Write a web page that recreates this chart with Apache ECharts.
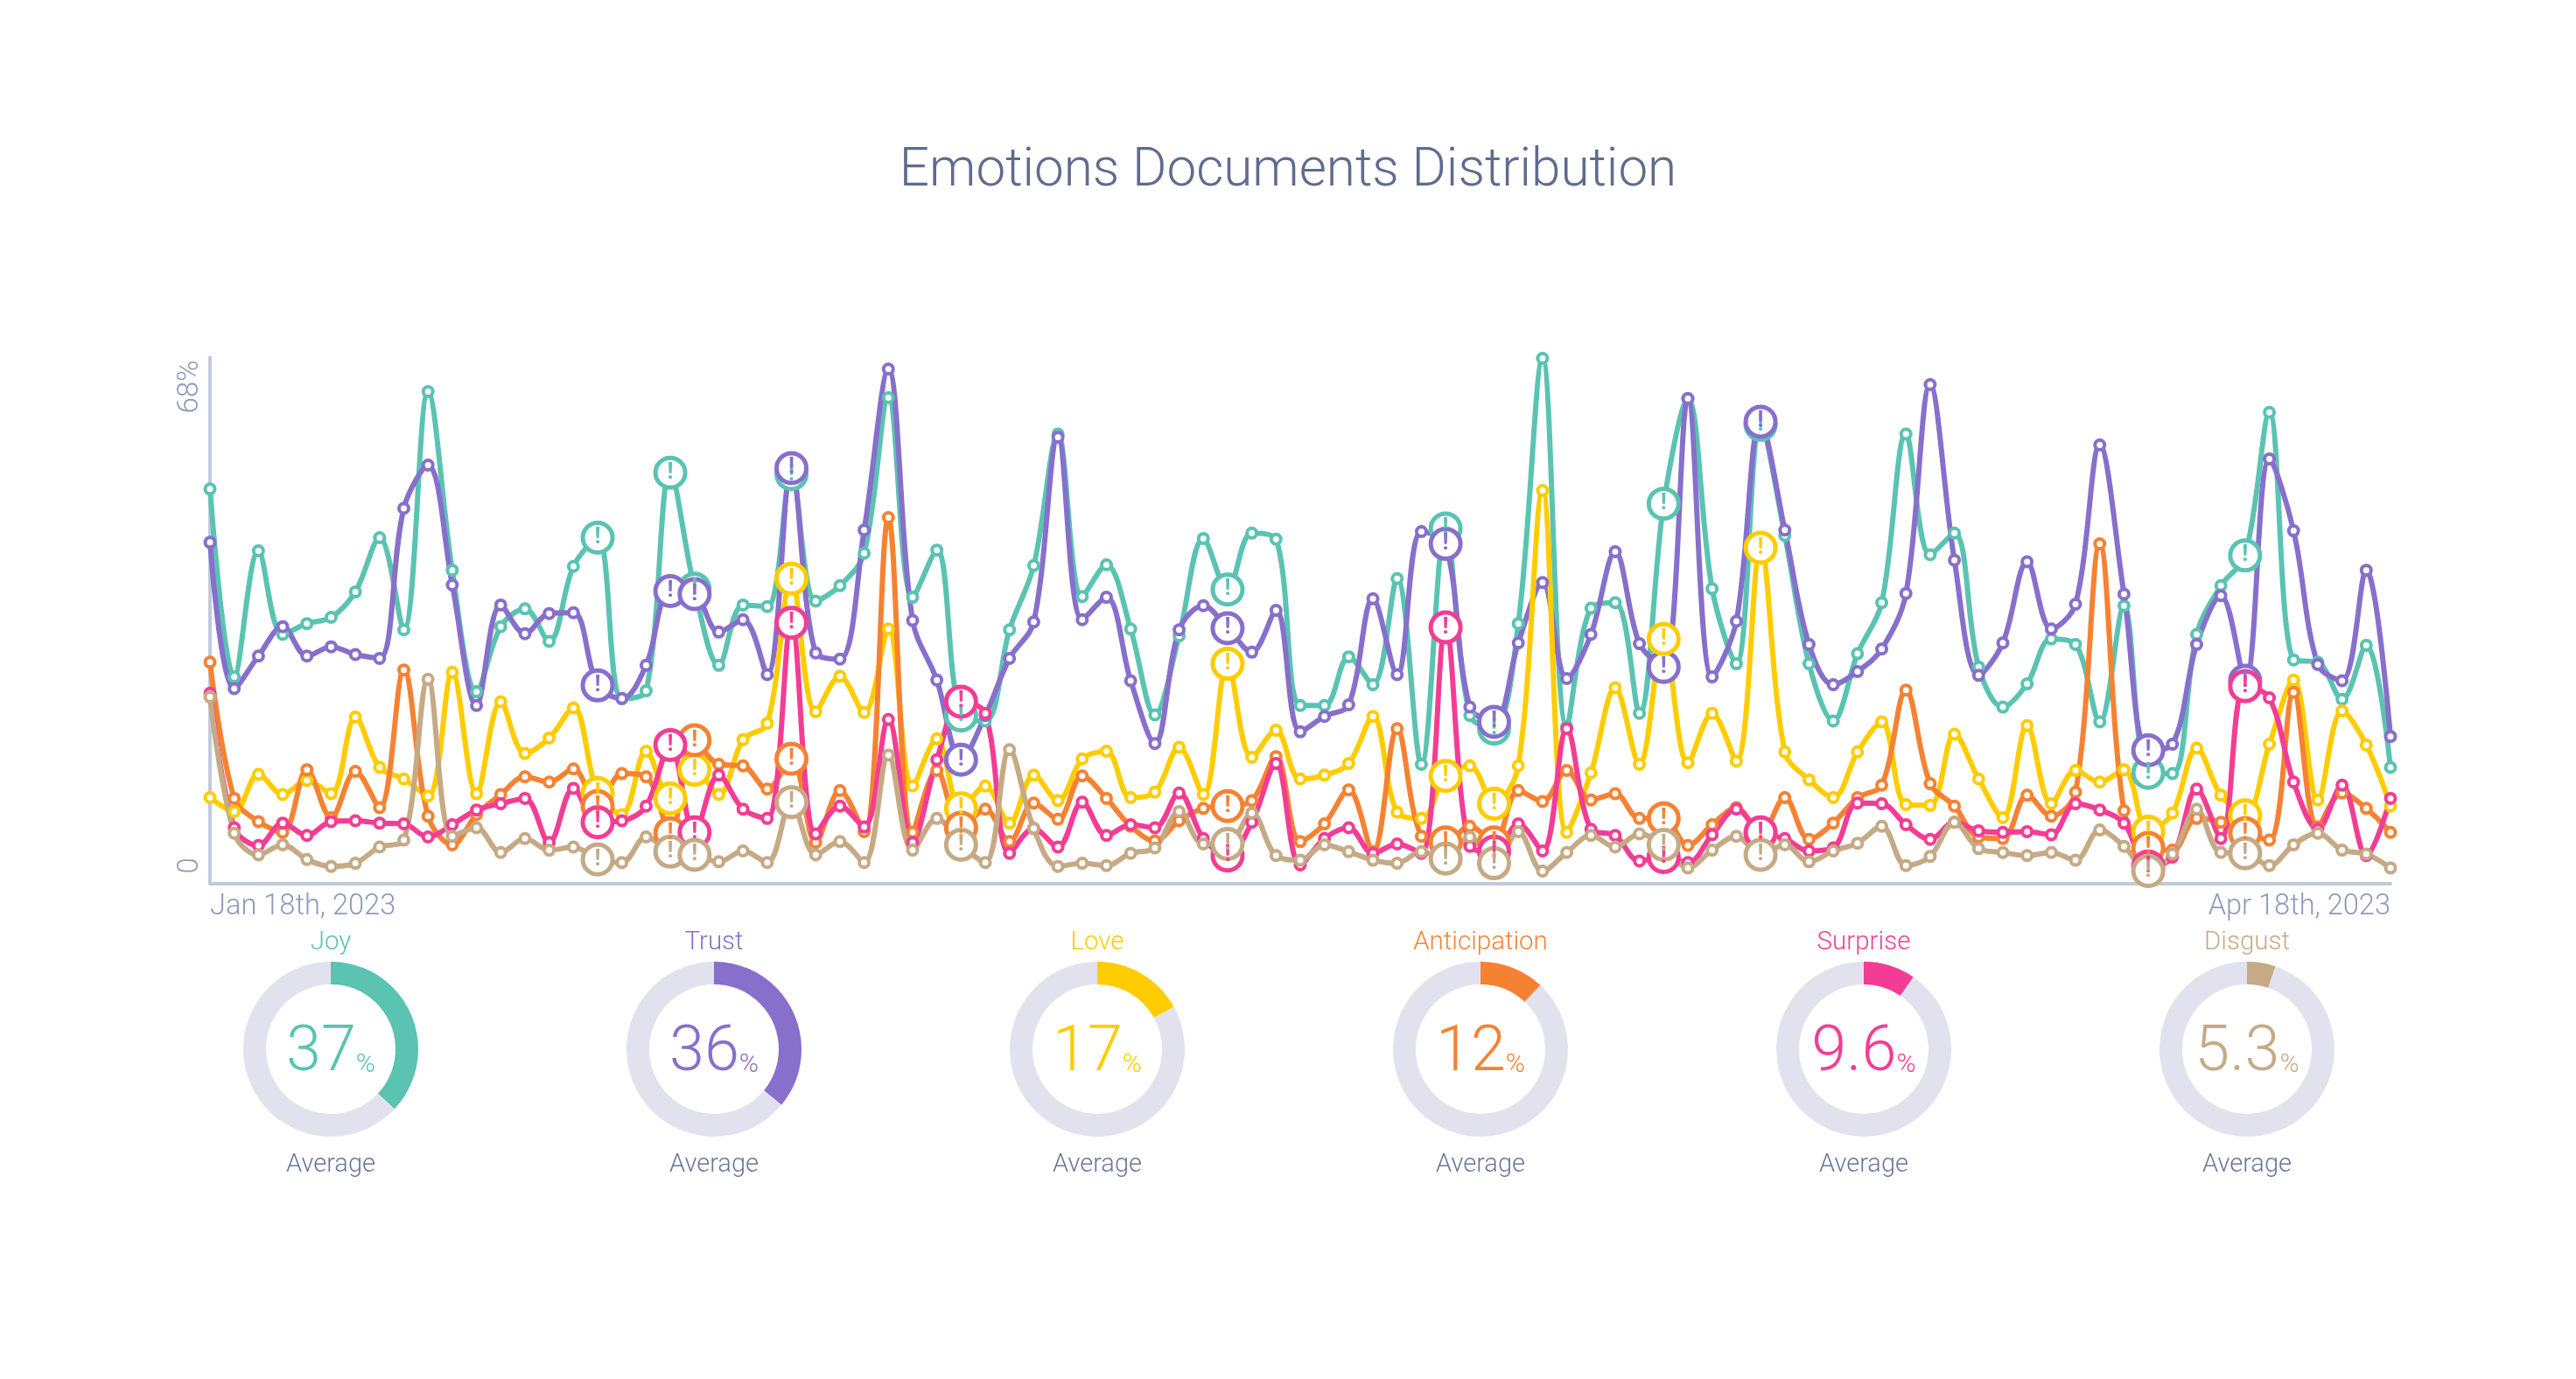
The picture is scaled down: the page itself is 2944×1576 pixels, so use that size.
<!DOCTYPE html>
<html>
<head>
<meta charset="utf-8">
<title>Emotions Documents Distribution</title>
<script src="https://cdn.jsdelivr.net/npm/echarts@6/dist/echarts.min.js"></script>
<style>
  html, body { margin: 0; padding: 0; background: #fff; }
  #chart { width: 2944px; height: 1576px; }
</style>
</head>
<body>
<div id="chart"></div>
<script>
// days on the axis, Jan 18th to Apr 18th
const days = [
  'Jan 18','Jan 19','Jan 20','Jan 21','Jan 22','Jan 23','Jan 24','Jan 25','Jan 26','Jan 27','Jan 28','Jan 29','Jan 30','Jan 31',
  'Feb 1','Feb 2','Feb 3','Feb 4','Feb 5','Feb 6','Feb 7','Feb 8','Feb 9','Feb 10','Feb 11','Feb 12','Feb 13','Feb 14','Feb 15','Feb 16','Feb 17','Feb 18','Feb 19','Feb 20','Feb 21','Feb 22','Feb 23','Feb 24','Feb 25','Feb 26','Feb 27','Feb 28',
  'Mar 1','Mar 2','Mar 3','Mar 4','Mar 5','Mar 6','Mar 7','Mar 8','Mar 9','Mar 10','Mar 11','Mar 12','Mar 13','Mar 14','Mar 15','Mar 16','Mar 17','Mar 18','Mar 19','Mar 20','Mar 21','Mar 22','Mar 23','Mar 24','Mar 25','Mar 26','Mar 27','Mar 28','Mar 29','Mar 30','Mar 31',
  'Apr 1','Apr 2','Apr 3','Apr 4','Apr 5','Apr 6','Apr 7','Apr 8','Apr 9','Apr 10','Apr 11','Apr 12','Apr 13','Apr 14','Apr 15','Apr 16','Apr 17','Apr 18'
];
const firstDayLabel = 'Jan 18th, 2023';
const lastDayLabel = 'Apr 18th, 2023';

const joy = [51.0,26.7,43.0,32.2,33.6,34.4,37.7,44.7,32.8,63.6,40.5,24.8,33.2,35.5,31.3,41.0,44.7,23.9,24.9,53.1,38.1,28.2,36.0,35.8,52.9,36.5,38.5,42.7,62.8,37.0,43.1,21.7,21.0,32.8,41.1,58.1,37.1,41.2,32.9,21.8,32.0,44.6,38.0,45.3,44.5,23.0,23.0,29.3,25.7,39.4,15.4,45.9,21.7,20.0,33.6,67.9,20.3,35.6,36.3,22.0,49.1,62.7,38.1,28.4,59.3,45.0,28.4,21.0,29.7,36.3,58.1,42.5,45.3,28.0,22.8,25.8,31.6,30.9,20.9,35.9,14.3,14.2,32.2,38.5,42.4,60.9,28.9,28.6,23.8,30.8,15.0];
const trust = [44.1,25.2,29.4,33.2,29.4,30.6,29.6,29.1,48.5,54.1,38.6,23.0,36.0,32.3,34.9,35.0,25.6,23.9,28.2,37.8,37.4,32.5,34.1,27.0,53.7,29.8,29.0,45.7,66.5,34.0,26.3,16.0,21.7,29.1,33.8,57.7,34.1,37.0,26.2,18.1,32.8,35.9,33.0,29.9,35.3,19.6,21.6,23.1,36.8,27.0,45.5,43.9,22.8,20.9,31.1,38.9,26.5,32.2,42.9,31.0,28.0,62.7,26.7,33.9,59.7,45.7,30.9,25.7,27.4,30.3,37.5,64.5,41.8,26.9,31.1,41.6,32.9,36.1,56.7,37.4,17.2,18.0,30.9,37.2,26.2,54.9,45.6,28.3,26.2,40.5,19.0];
const love = [11.1,9.3,14.1,11.5,13.3,11.6,21.5,15.0,13.5,11.3,27.3,11.6,23.5,16.8,18.8,22.7,11.7,8.9,17.1,11.0,14.7,11.5,18.6,20.7,39.4,22.2,26.8,22.1,32.9,12.6,18.7,9.7,12.6,7.8,14.0,10.7,16.1,17.1,11.1,11.8,17.6,11.5,28.4,16.3,19.8,13.5,14.0,15.5,21.6,9.2,8.4,13.9,15.2,10.3,15.2,50.8,6.6,14.3,25.3,15.4,31.6,15.6,22.0,15.8,43.4,17.0,13.4,11.1,17.0,20.9,10.2,10.1,19.3,13.5,8.5,20.4,10.3,14.6,13.1,14.7,6.7,9.1,17.5,11.4,8.8,18.0,26.3,10.8,22.3,17.9,10.0];
const anticipation = [28.6,11.0,8.0,6.6,14.7,8.5,14.5,9.8,27.6,8.7,5.0,8.9,11.5,13.8,13.1,14.8,10.0,14.2,13.8,6.5,18.5,15.4,15.2,12.2,16.1,5.3,12.0,6.7,47.3,6.6,14.6,7.2,9.6,5.4,10.4,8.3,13.9,11.0,7.4,5.5,8.1,9.7,10.0,10.7,16.4,5.4,7.7,12.1,4.1,20.0,6.1,5.3,7.4,5.3,12.0,10.6,14.6,10.8,11.6,8.4,8.4,4.9,7.6,9.8,6.4,11.1,5.7,7.8,11.1,12.7,25.0,12.9,10.0,6.0,5.8,11.4,8.7,11.8,43.9,9.4,4.6,4.3,8.4,7.9,6.5,5.6,24.7,7.3,11.7,9.7,6.6];
const surprise = [24.6,7.2,4.9,7.8,6.2,8.0,8.1,7.8,7.7,6.0,7.6,9.5,10.3,11.0,5.3,12.3,7.9,8.1,10.0,17.9,6.6,14.0,9.6,8.4,33.7,6.4,10.0,7.3,21.2,5.3,16.0,23.5,22.0,3.9,7.1,4.7,10.5,6.2,7.6,7.2,11.7,5.8,3.6,7.9,15.5,2.4,5.8,7.2,3.9,5.1,3.9,33.1,4.8,4.1,7.7,4.2,20.0,7.0,6.2,2.9,3.4,2.7,6.3,9.6,6.6,5.8,4.2,4.6,10.4,10.3,7.6,5.7,7.9,6.8,6.6,6.7,6.3,10.3,9.5,7.8,2.2,3.4,12.2,5.8,25.5,24.0,13.1,7.0,12.7,3.6,11.0];
const disgust = [24.1,6.5,3.7,5.0,3.1,2.2,2.6,4.7,5.6,26.4,6.1,7.2,4.0,5.8,4.3,4.7,3.1,2.7,6.0,4.1,3.7,2.8,4.2,2.7,10.5,3.7,5.4,2.7,16.6,4.3,8.4,5.0,2.7,17.3,7.1,2.2,2.6,2.3,3.9,4.6,9.3,5.1,5.1,9.1,3.6,3.0,5.0,4.1,3.0,2.6,4.1,3.2,6.0,2.6,6.7,1.6,4.0,6.2,4.7,6.4,5.0,2.0,4.3,6.1,3.7,5.0,2.8,4.2,5.2,7.4,2.3,3.5,7.9,4.5,4.0,3.6,4.0,3.0,6.9,4.8,1.6,3.8,9.6,4.0,3.9,2.3,5.0,6.5,4.3,3.8,2.0];

// days flagged with the "!" marker on every line
const alertDays = [16,19,20,24,31,42,51,53,60,64,80,84];

const emotions = ['Joy','Trust','Love','Anticipation','Surprise','Disgust'];
const averages = [37,36,17,12,9.6,5.3];
const colors = ['#5ac3b2','#876fcc','#ffcc00','#f58233','#f33d94','#c5aa85'];
const seriesValues = [joy,trust,love,anticipation,surprise,disgust];

const ringCenters = [378,816,1254,1692,2130,2568];
const fontName = 'Roboto';

function lineSeries(name, values, color) {
  return {
    name: name,
    type: 'line',
    // alert days get a bigger ring with a "!" in it
    data: values.map(function (value, index) {
      const isAlert = alertDays.includes(index);
      return {
        value: value,
        symbolSize: isAlert ? 34 : 11,
        itemStyle: { color: '#fff', borderColor: color, borderWidth: isAlert ? 5 : 4 },
        label: {
          show: isAlert,
          position: 'inside',
          formatter: '!',
          color: color,
          fontFamily: fontName,
          fontWeight: 700,
          fontSize: 26
        }
      };
    }),
    smooth: 0.35,
    clip: false,
    showSymbol: true,
    showAllSymbol: true,
    symbol: 'circle',
    lineStyle: { color: color, width: 6 },
    emphasis: { disabled: true },
    silent: true
  };
}

function ringSeries(i) {
  return {
    type: 'pie',
    silent: true,
    radius: [74, 100],
    center: [ringCenters[i], 1199],
    startAngle: 90,
    clockwise: true,
    label: { show: false },
    labelLine: { show: false },
    data: [
      {
        value: averages[i],
        itemStyle: { color: colors[i] },
        label: {
          show: true,
          position: 'center',
          offset: [0, 4],
          formatter: '{num|' + averages[i] + '}{pct|%}',
          rich: {
            num: { fontFamily: fontName, fontWeight: 300, fontSize: 72, lineHeight: 76, color: colors[i], verticalAlign: 'bottom' },
            pct: { fontFamily: fontName, fontWeight: 300, fontSize: 30, lineHeight: 40, color: colors[i], verticalAlign: 'bottom', padding: [0, 0, 9, 0] }
          }
        }
      },
      { value: 100 - averages[i], itemStyle: { color: '#e2e2ef' } }
    ]
  };
}

function ringTitles(i) {
  return [
    {
      text: emotions[i], left: ringCenters[i], top: 1063, padding: 0, textAlign: 'center',
      textStyle: { fontFamily: fontName, fontWeight: 300, fontSize: 29.5, color: colors[i] }
    },
    {
      text: 'Average', left: ringCenters[i], top: 1317, padding: 0, textAlign: 'center',
      textStyle: { fontFamily: fontName, fontWeight: 300, fontSize: 29, color: '#6b7798' }
    }
  ];
}

const chart = echarts.init(document.getElementById('chart'));

let titles = [{
  text: 'Emotions Documents Distribution',
  left: 1472,
  top: 167,
  padding: 0,
  textAlign: 'center',
  textStyle: { fontFamily: fontName, fontWeight: 300, fontSize: 60.2, color: '#5f6b8f' }
}];
let rings = [];
let lines = [];
emotions.forEach(function (name, i) {
  titles = titles.concat(ringTitles(i));
  rings.push(ringSeries(i));
  lines.push(lineSeries(name, seriesValues[i], colors[i]));
});

const option = {
  backgroundColor: '#ffffff',
  animation: false,
  title: titles,
  grid: { left: 240, right: 212, top: 408.6, bottom: 566.4, containLabel: false },
  xAxis: {
    type: 'category',
    data: days,
    boundaryGap: false,
    axisLine: { show: true, onZero: false, lineStyle: { color: '#c1c9dd', width: 4 } },
    axisTick: { show: false },
    splitLine: { show: false },
    axisLabel: {
      show: true,
      margin: 11,
      interval: function (index) { return index === 0 || index === days.length - 1; },
      alignMinLabel: 'left',
      alignMaxLabel: 'right',
      fontFamily: fontName,
      fontWeight: 300,
      fontSize: 32.6,
      color: '#8e9ab8',
      formatter: function (value, index) {
        return index === 0 ? firstDayLabel : lastDayLabel;
      }
    }
  },
  yAxis: {
    type: 'value',
    min: 0,
    max: 68,
    interval: 68,
    axisLine: { show: true, lineStyle: { color: '#c1c9dd', width: 4 } },
    axisTick: { show: false },
    splitLine: { show: false },
    axisLabel: {
      show: true,
      rotate: 90,
      margin: 6,
      padding: [0, 3, 0, 11],
      fontFamily: fontName,
      fontWeight: 300,
      fontSize: 33,
      color: '#8e9ab8',
      alignMinLabel: 'left',
      alignMaxLabel: 'right',
      formatter: function (value) { return value ? value + '%' : value; }
    }
  },
  series: lines.concat(rings)
};
chart.setOption(option);
</script>
</body>
</html>
